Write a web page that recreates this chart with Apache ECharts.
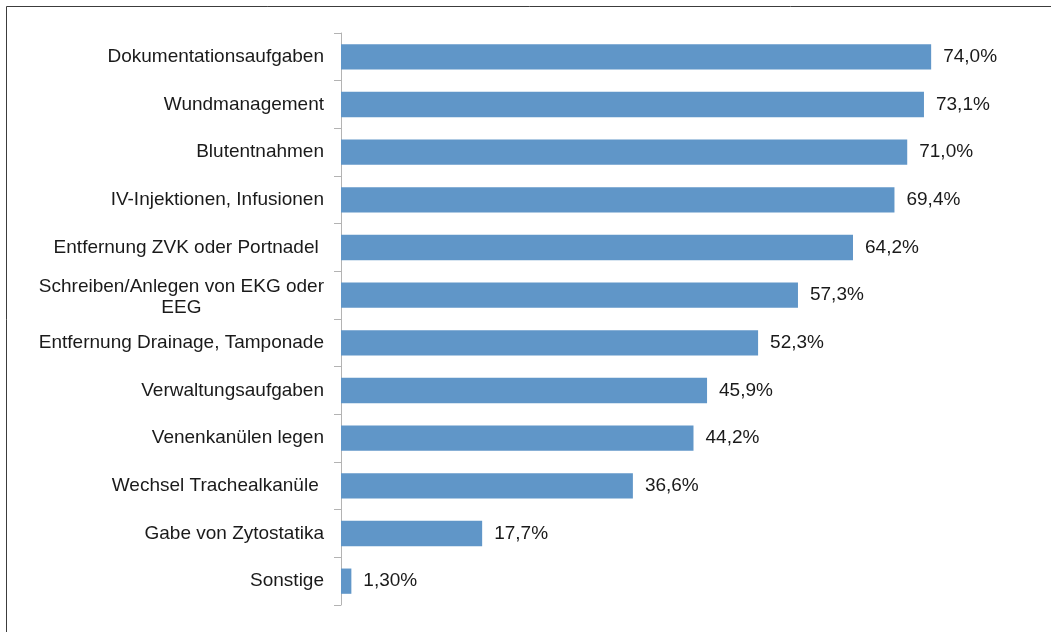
<!DOCTYPE html>
<html>
<head>
<meta charset="utf-8">
<script src="https://cdn.jsdelivr.net/npm/echarts@6/dist/echarts.min.js"></script>
<style>
  html, body { margin: 0; padding: 0; background: #fff; }
  #chart { width: 1051px; height: 632px; }
</style>
</head>
<body>
<div id="chart"></div>
<script>
var categories = [
    'Dokumentationsaufgaben',
    'Wundmanagement',
    'Blutentnahmen',
    'IV-Injektionen, Infusionen',
    'Entfernung ZVK oder Portnadel ',
    'Schreiben/Anlegen von EKG oder\nEEG',
    'Entfernung Drainage, Tamponade',
    'Verwaltungsaufgaben',
    'Venenkanülen legen',
    'Wechsel Trachealkanüle ',
    'Gabe von Zytostatika',
    'Sonstige'
];
var values = [74.0, 73.1, 71.0, 69.4, 64.2, 57.3, 52.3, 45.9, 44.2, 36.6, 17.7, 1.3];
var valueLabels = ['74,0%', '73,1%', '71,0%', '69,4%', '64,2%', '57,3%', '52,3%',
                   '45,9%', '44,2%', '36,6%', '17,7%', '1,30%'];

var chart = echarts.init(document.getElementById('chart'));

chart.setOption({
    animation: false,
    backgroundColor: '#fff',
    textStyle: { fontFamily: '"Liberation Sans", Arial, sans-serif' },
    graphic: [{
        type: 'rect',
        shape: { x: 6.5, y: 6.5, width: 1200, height: 800 },
        style: { fill: 'none', stroke: '#3c3c3c', lineWidth: 1 },
        silent: true
    }],
    grid: { left: 341, right: 72, top: 33, bottom: 27 },
    xAxis: {
        type: 'value',
        min: 0,
        max: 80,
        show: false
    },
    yAxis: {
        type: 'category',
        inverse: true,
        data: categories,
        axisLine: { show: true, lineStyle: { color: '#b3b3b3', width: 1 } },
        axisTick: { show: true, length: 7, lineStyle: { color: '#b3b3b3' } },
        axisLabel: {
            margin: 17,
            color: '#1a1a1a',
            fontSize: 19,
            lineHeight: 21,
            formatter: function (v) {
                return v.indexOf('\n') >= 0 ? '{c|' + v + '}' : v;
            },
            rich: {
                c: { align: 'center', fontSize: 19, lineHeight: 21, color: '#1a1a1a', padding: [4, 0, 0, 0] }
            }
        }
    },
    series: [{
        type: 'bar',
        data: values,
        barCategoryGap: '47%',
        itemStyle: { color: '#6096c8' },
        label: {
            show: true,
            position: 'right',
            distance: 12,
            color: '#1a1a1a',
            fontSize: 19,
            formatter: function (p) { return valueLabels[p.dataIndex]; }
        }
    }]
});
</script>
</body>
</html>
